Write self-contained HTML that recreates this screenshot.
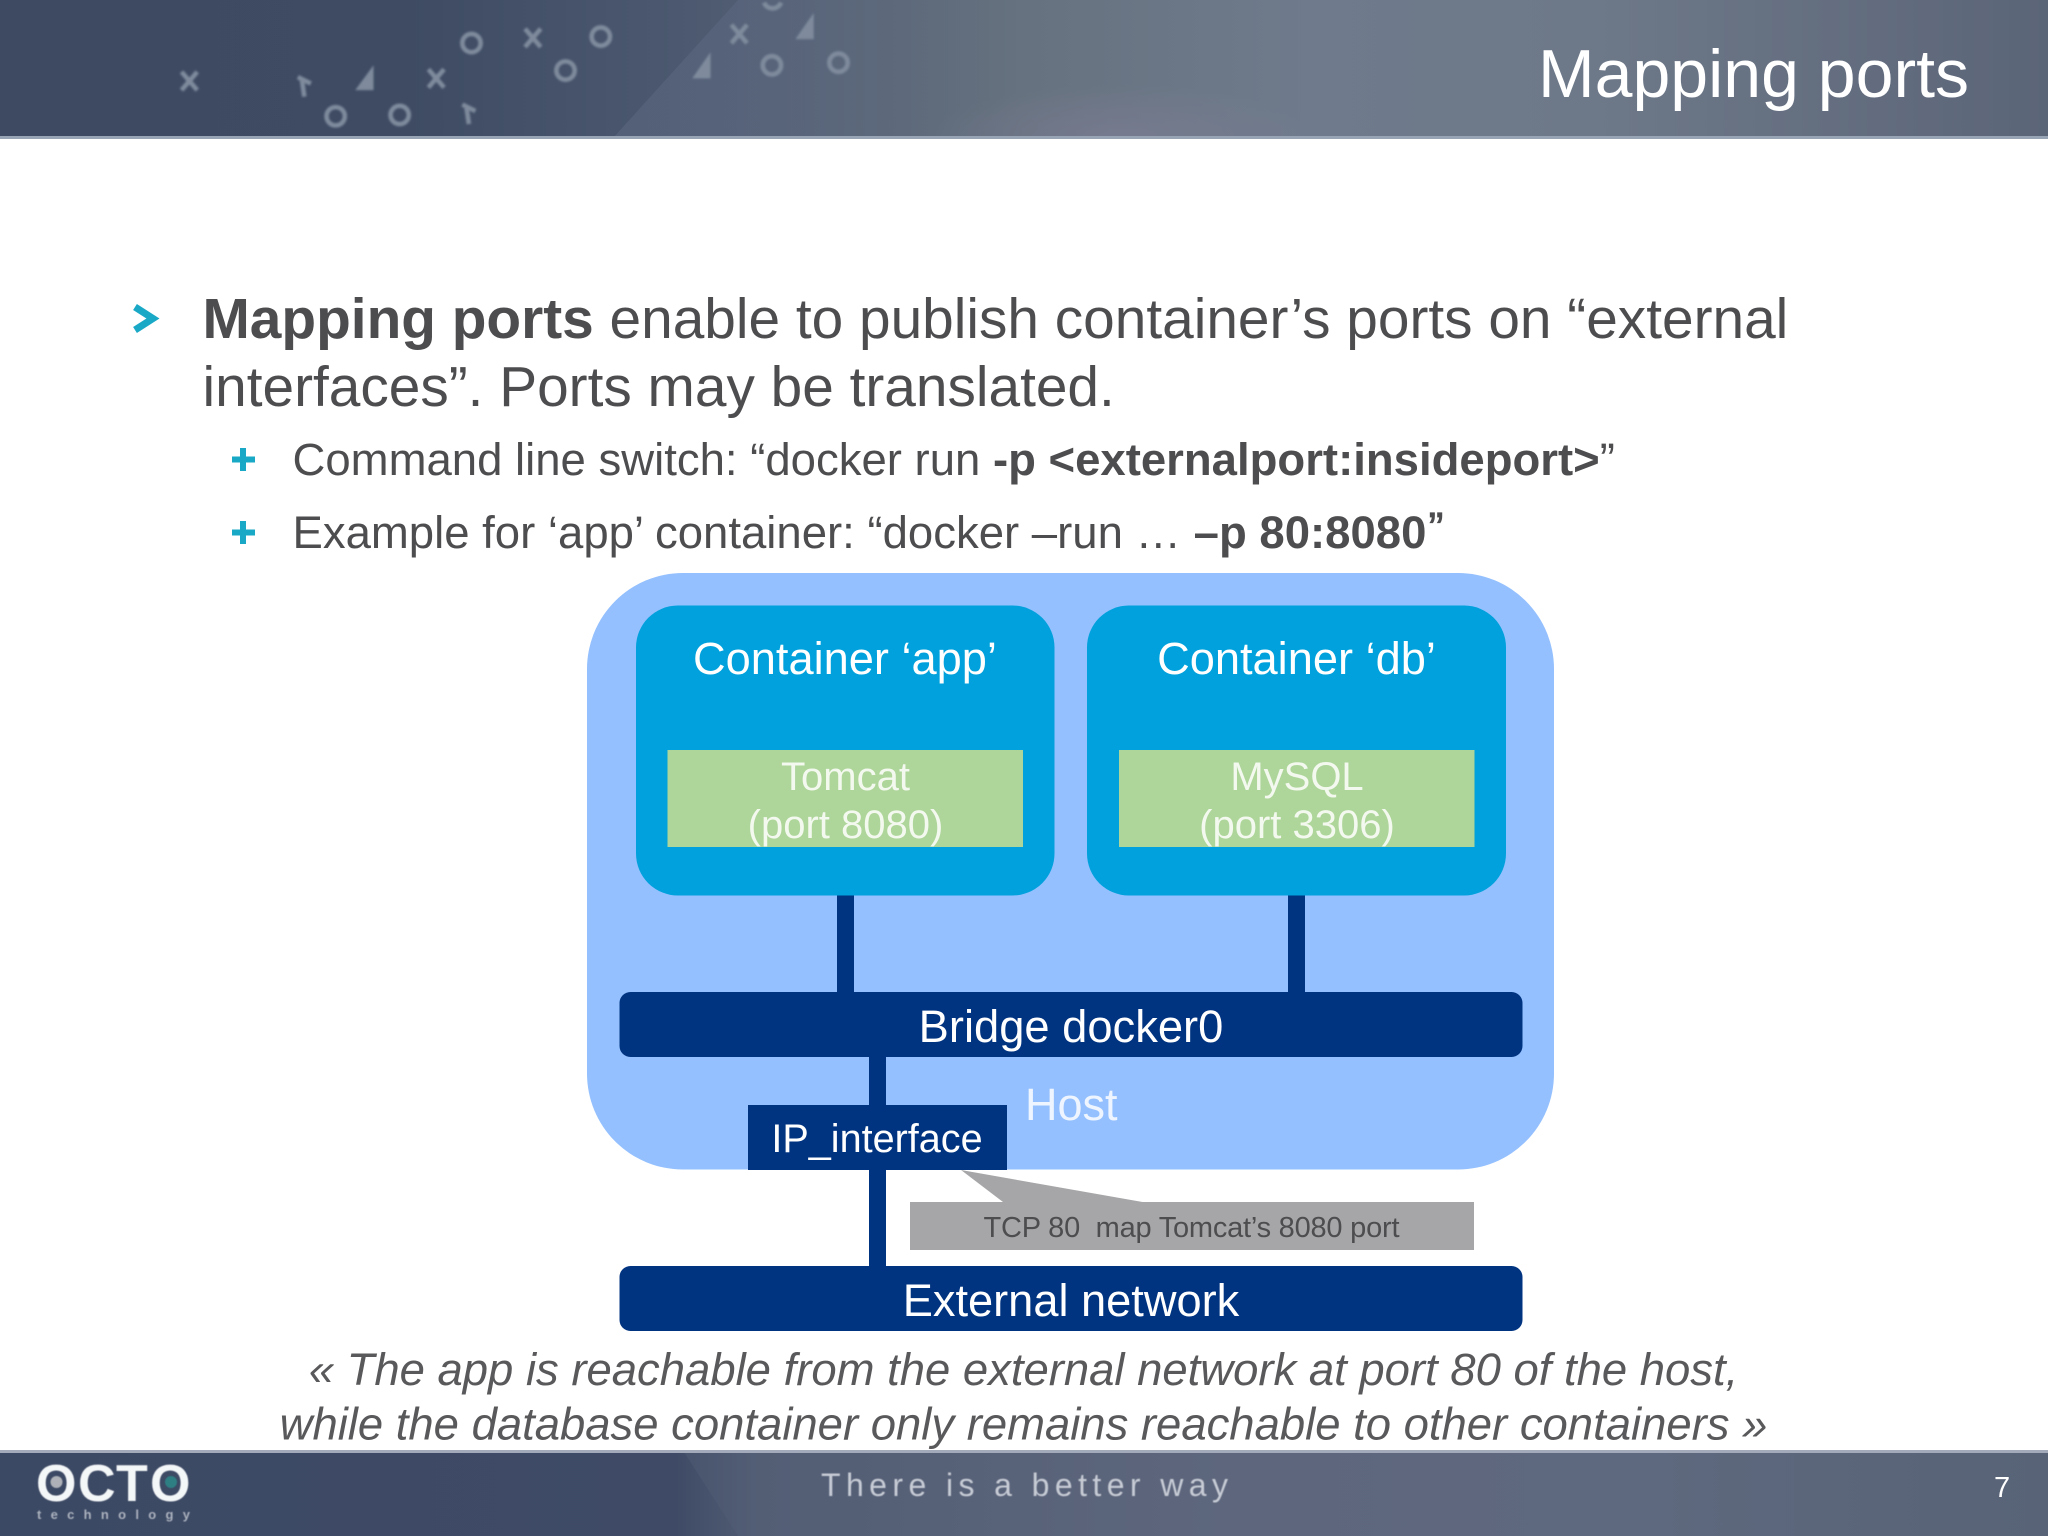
<!DOCTYPE html>
<html>
<head>
<meta charset="utf-8">
<style>
html,body{margin:0;padding:0;background:#fff;width:2048px;height:1536px;overflow:hidden}
svg{display:block}
text{font-family:"Liberation Sans",Arial,sans-serif}
</style>
</head>
<body>
<svg width="2048" height="1536" viewBox="0 0 2048 1536" xmlns="http://www.w3.org/2000/svg">
<defs>
<linearGradient id="h1" x1="0" x2="1" y1="0" y2="0">
<stop offset="0" stop-color="#3d4a62"/>
<stop offset="0.2" stop-color="#3e4b63"/>
<stop offset="0.33" stop-color="#4b586f"/>
<stop offset="0.5" stop-color="#66727f"/>
<stop offset="0.64" stop-color="#6f7b8c"/>
<stop offset="0.78" stop-color="#6d7888"/>
<stop offset="1" stop-color="#5b6578"/>
</linearGradient>
<linearGradient id="h2" x1="0" x2="1" y1="0" y2="0">
<stop offset="0" stop-color="#5b6780" stop-opacity="0.6"/>
<stop offset="0.5" stop-color="#5c677e" stop-opacity="0.6"/>
<stop offset="1" stop-color="#66727f" stop-opacity="0"/>
</linearGradient>
<linearGradient id="f1" x1="0" x2="1" y1="0" y2="0">
<stop offset="0" stop-color="#3c4964"/>
<stop offset="0.33" stop-color="#3f4b66"/>
<stop offset="0.37" stop-color="#525d74"/>
<stop offset="0.6" stop-color="#5d667c"/>
<stop offset="0.8" stop-color="#5e687e"/>
<stop offset="1" stop-color="#586377"/>
</linearGradient>
<filter id="b" x="-5%" y="-5%" width="110%" height="110%"><feGaussianBlur stdDeviation="0.9"/></filter>
<filter id="b2" x="-10%" y="-10%" width="120%" height="120%"><feGaussianBlur stdDeviation="0.6"/></filter>
<radialGradient id="pur" cx="0.5" cy="1" r="0.5">
<stop offset="0" stop-color="#827f98" stop-opacity="0.55"/>
<stop offset="1" stop-color="#827f98" stop-opacity="0"/>
</radialGradient>
</defs>

<!-- header -->
<rect x="0" y="0" width="2048" height="137" fill="url(#h1)"/>
<polygon points="738,0 1020,0 1020,137 614,137" fill="url(#h2)"/>
<rect x="930" y="30" width="380" height="107" fill="url(#pur)"/>
<rect x="0" y="136" width="2048" height="3" fill="#98a3b4"/>

<!-- header decoration -->
<g transform="scale(1.3061)" fill="none" stroke="#7f8b9d" stroke-width="3.500" filter="url(#b)">
<path d="M139 55l12 14M151 55l-12 14"/>
<path d="M328 53l12 14M340 53l-12 14"/>
<path d="M402 22l12 14M414 22l-12 14"/>
<path d="M560 19l12 14M572 19l-12 14"/>
<circle cx="257" cy="89" r="7"/><circle cx="306" cy="88" r="7"/>
<circle cx="361" cy="33" r="7"/><circle cx="460" cy="28" r="7"/>
<circle cx="433" cy="54" r="7"/><circle cx="591" cy="50" r="7"/>
<circle cx="642" cy="48" r="7"/>
<path d="M598 2a7 7 0 0 1-13 0"/>
<path d="M228 59l10 5M231 60l2 14"/>
<path d="M354 80l10 5M357 81l2 14"/>
<path d="M286 50v19h-14z" fill="#7f8b9d" stroke="none"/>
<path d="M544 40v20h-14z" fill="#7f8b9d" stroke="none"/>
<path d="M623 10v20h-14z" fill="#7f8b9d" stroke="none"/>
</g>

<text x="1538" y="97" font-size="68" fill="#fff" textLength="431">Mapping ports</text>

<!-- bullets -->
<polyline points="135,307 153,318.500 135,330" fill="none" stroke="#19a9c6" stroke-width="7"/>
<path d="M243 448v23M232 459.500h23M243 521v23M232 532.500h23" fill="none" stroke="#19a9c6" stroke-width="6"/>

<text x="202.500" y="338" font-size="56.800" fill="#4d4d4f"><tspan font-weight="bold">Mapping ports</tspan> enable to publish container’s ports on “external</text>
<text x="202.500" y="406" font-size="56.800" fill="#4d4d4f">interfaces”. Ports may be translated.</text>
<text x="292.500" y="475" font-size="45.500" fill="#4d4d4f">Command line switch: “docker run <tspan font-weight="bold">-p &lt;externalport:insideport&gt;</tspan>”</text>
<text x="292.500" y="548" font-size="45.500" fill="#4d4d4f">Example for ‘app’ container: “docker –run … <tspan font-weight="bold">–p 80:8080</tspan><tspan dx="2" dy="-4" stroke="#4d4d4f" stroke-width="0.7">”</tspan></text>

<!-- host -->
<rect x="587" y="573" width="967" height="596.500" rx="96" ry="96" fill="#94c0ff"/>

<!-- connectors -->
<rect x="837" y="890" width="17" height="105" fill="#003380"/>
<rect x="1288" y="890" width="17" height="105" fill="#003380"/>
<rect x="869" y="1050" width="17" height="220" fill="#003380"/>

<!-- containers -->
<rect x="636" y="605.500" width="418.500" height="290" rx="42" ry="42" fill="#00a1dc"/>
<rect x="1087" y="605.500" width="419" height="290" rx="42" ry="42" fill="#00a1dc"/>
<rect x="667.500" y="750" width="355.500" height="97" fill="#aed59a"/>
<rect x="1119" y="750" width="355.500" height="97" fill="#aed59a"/>

<g text-anchor="middle" fill="#fff">
<text x="845" y="674" font-size="45.200">Container ‘app’</text>
<text x="1296.500" y="674" font-size="45.200">Container ‘db’</text>
<text x="845.500" y="790" font-size="40" fill="#f3f9ee">Tomcat</text>
<text x="845.500" y="838" font-size="40" fill="#f3f9ee">(port 8080)</text>
<text x="1297" y="790" font-size="40" fill="#f3f9ee">MySQL</text>
<text x="1297" y="838" font-size="40" fill="#f3f9ee">(port 3306)</text>
</g>

<!-- bridge -->
<rect x="619.500" y="992" width="903" height="65" rx="11" ry="11" fill="#003380"/>
<text x="1071" y="1042" font-size="45.300" fill="#fff" text-anchor="middle">Bridge docker0</text>

<!-- host label -->
<text x="1025" y="1120" font-size="45" fill="#eef5ff">Host</text>

<!-- IP -->
<rect x="748" y="1105" width="259" height="65" fill="#003380"/>
<text x="877" y="1152" font-size="39.600" fill="#fff" text-anchor="middle">IP_interface</text>

<!-- callout -->
<polygon points="910,1202 1003,1202 961,1170 1142.500,1202 1474,1202 1474,1250 910,1250" fill="#a6a6a8"/>
<text x="983.500" y="1237" font-size="29" fill="#4d4d4f" xml:space="preserve" textLength="416">TCP 80  map Tomcat’s 8080 port</text>

<!-- external -->
<rect x="619.500" y="1266" width="903" height="65" rx="11" ry="11" fill="#003380"/>
<text x="1071" y="1316" font-size="45.200" fill="#fff" text-anchor="middle">External network</text>

<!-- caption -->
<text x="1023.500" y="1385" font-size="45.450" font-style="italic" fill="#59595b" text-anchor="middle">« The app is reachable from the external network at port 80 of the host,</text>
<text x="1023.500" y="1439.500" font-size="45.450" font-style="italic" fill="#59595b" text-anchor="middle">while the database container only remains reachable to other containers »</text>

<!-- footer -->
<rect x="0" y="1450" width="2048" height="86" fill="url(#f1)"/>
<polygon points="684,1452 900,1452 900,1536 738,1536" fill="#566079" opacity="0.35"/>
<rect x="0" y="1450" width="2048" height="3" fill="#a3abbb"/>

<g filter="url(#b2)">
<g font-size="52" font-weight="bold" fill="#f4f7f8">
<text x="36" y="1501">O</text>
<text x="78" y="1501">C</text>
<text x="116" y="1501">T</text>
<text x="150" y="1501">O</text>
</g>
<circle cx="56.500" cy="1482" r="6" fill="#aeb2b8"/>
<circle cx="171" cy="1482" r="6" fill="#2f7f84"/>
</g>
<text x="37" y="1519" font-size="13" font-weight="bold" fill="#aab1bd" textLength="153" filter="url(#b2)">technology</text>
<text x="821" y="1496" font-size="32" fill="#c6cbd4" textLength="407" filter="url(#b2)">There is a better way</text>
<text x="1994" y="1497" font-size="29" fill="#fff">7</text>
</svg>
</body>
</html>
